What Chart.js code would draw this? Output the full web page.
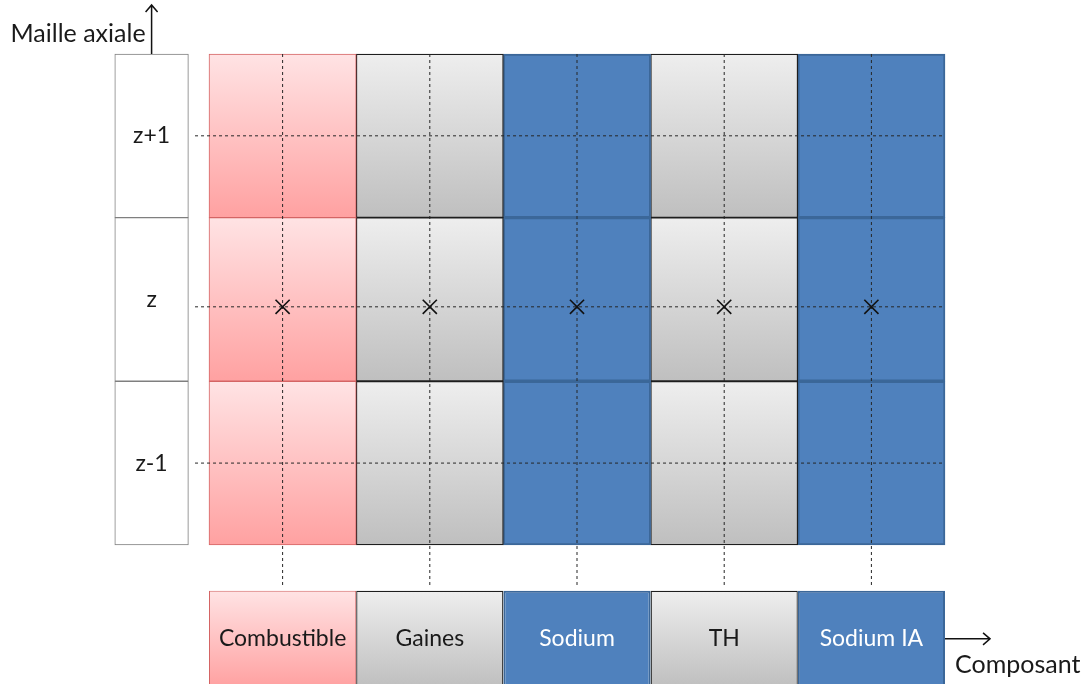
<!DOCTYPE html>
<html>
<head>
<meta charset="utf-8">
<script src="https://cdn.jsdelivr.net/npm/chart.js@4.4.0/dist/chart.umd.min.js"></script>
<style>
  html, body { margin: 0; background: #fff; }
  #wrap { width: 1082px; height: 684px; }
</style>
</head>
<body>
<div id="wrap"><canvas id="c"></canvas></div>
<script>
// Composants (colonnes) et mailles axiales (lignes)
const composants = ['Combustible', 'Gaines', 'Sodium', 'TH', 'Sodium IA'];
const styleComposant = ['rose', 'gris', 'bleu', 'gris', 'bleu'];
const mailles = ['z-1', 'z', 'z+1'];
const mailleCentre = [0.5, 1.5, 2.5];
const noeudY = [0.5, 1.455, 2.5];      // traits pointillés horizontaux
const noeudCentral = 1;                 // maille des croix
const axeX = [-0.64, -0.14];            // boîte "Maille axiale"
const legendeY = -0.574;
const legendeHaut = 0.587;              // hauteur relative de la rangée des composants
const dashBas = -0.263;
const dashGauche = -0.095;
const flecheHaut = 3.3;
const flecheDroite = 5.306;

const styles = {
  rose: { haut: '#ffe3e4', bas: '#ffa1a1', bord: '#d46464', bw: 1, texte: '#1a1a1a' },
  gris: { haut: '#eeeeee', bas: '#bfbfbf', bord: '#1e1e1e', bw: 1.3, texte: '#1a1a1a' },
  bleu: { fond: '#4f81bd', bord: '#3b6799', bw: 2, texte: '#ffffff' }
};

function remplissage(nom, demi) {
  return (c) => {
    const s = styles[nom];
    if (s.fond) return s.fond;
    const chart = c.chart;
    if (!chart.chartArea || !c.raw) return s.bas;
    const y = chart.scales.y;
    const g = chart.ctx.createLinearGradient(0, y.getPixelForValue(c.raw.y + demi), 0, y.getPixelForValue(c.raw.y - demi));
    g.addColorStop(0, s.haut);
    g.addColorStop(1, s.bas);
    return g;
  };
}

const datasets = [];

// grille composant x maille
composants.forEach((nom, i) => {
  const s = styles[styleComposant[i]];
  datasets.push({
    type: 'bar', label: nom, indexAxis: 'y', grouped: false, clip: false, order: 10 + i,
    data: mailleCentre.map(c => ({ y: c, x: [i, i + 1] })),
    backgroundColor: remplissage(styleComposant[i], 0.5),
    borderColor: s.bord, borderWidth: s.bw, borderSkipped: false,
    categoryPercentage: 1, barPercentage: 1
  });
});

// rangée des composants (légende du bas)
const iLegende = datasets.length;
datasets.push({
  type: 'bar', label: 'composants', indexAxis: 'y', grouped: false, clip: false, order: 20,
  data: composants.map((n, i) => ({ y: legendeY, x: [i, i + 1] })),
  backgroundColor: (c) => remplissage(styleComposant[c.dataIndex] || 'gris', legendeHaut / 2)(c),
  borderColor: (c) => styles[styleComposant[c.dataIndex] || 'gris'].bord,
  borderWidth: (c) => styles[styleComposant[c.dataIndex] || 'gris'].bw,
  borderSkipped: false, categoryPercentage: 1, barPercentage: legendeHaut
});

// colonne des mailles axiales
const iAxe = datasets.length;
datasets.push({
  type: 'bar', label: 'mailles', indexAxis: 'y', grouped: false, clip: false, order: 21,
  data: mailleCentre.map(c => ({ y: c, x: axeX })),
  backgroundColor: '#ffffff', borderColor: '#7f7f7f', borderWidth: 1, borderSkipped: false,
  categoryPercentage: 1, barPercentage: 1
});

// pointillés verticaux
composants.forEach((n, i) => {
  datasets.push({
    type: 'line', data: [{ x: i + 0.5, y: 3 }, { x: i + 0.5, y: dashBas }],
    borderColor: '#262626', borderWidth: 1, borderDash: [3, 3], pointRadius: 0, clip: false, order: 2
  });
});

// pointillés horizontaux
noeudY.forEach(v => {
  datasets.push({
    type: 'line', data: [{ x: dashGauche, y: v }, { x: composants.length, y: v }],
    borderColor: '#262626', borderWidth: 1, borderDash: [3, 3], pointRadius: 0, clip: false, order: 2
  });
});

// croix au centre des mailles z
datasets.push({
  type: 'scatter', data: composants.map((n, i) => ({ x: i + 0.5, y: noeudY[noeudCentral] })),
  pointStyle: 'crossRot', pointRadius: 10, borderColor: '#111', borderWidth: 1.6, clip: false, order: 1
});

const decor = {
  id: 'decor',
  afterDatasetsDraw(chart) {
    const { ctx, scales: { x, y } } = chart;
    ctx.save();
    ctx.font = '23px Lato';
    ctx.textAlign = 'center';
    ctx.textBaseline = 'middle';

    ctx.fillStyle = '#1a1a1a';
    chart.getDatasetMeta(iAxe).data.forEach((el, i) => {
      ctx.fillText(mailles[i], (el.x + el.base) / 2, el.y);
    });

    chart.getDatasetMeta(iLegende).data.forEach((el, i) => {
      ctx.fillStyle = styles[styleComposant[i]].texte;
      ctx.fillText(composants[i], (el.x + el.base) / 2, el.y);
    });

    // flèches
    ctx.strokeStyle = '#111';
    ctx.lineWidth = 1.5;
    const ax = x.getPixelForValue((axeX[0] + axeX[1]) / 2);
    const ay0 = y.getPixelForValue(3), ay1 = y.getPixelForValue(flecheHaut);
    ctx.beginPath();
    ctx.moveTo(ax, ay0); ctx.lineTo(ax, ay1);
    ctx.moveTo(ax - 6, ay1 + 7); ctx.lineTo(ax, ay1); ctx.lineTo(ax + 6, ay1 + 7);
    const bx0 = x.getPixelForValue(composants.length), bx1 = x.getPixelForValue(flecheDroite);
    const by = y.getPixelForValue(legendeY);
    ctx.moveTo(bx0, by); ctx.lineTo(bx1, by);
    ctx.moveTo(bx1 - 7, by - 6); ctx.lineTo(bx1, by); ctx.lineTo(bx1 - 7, by + 6);
    ctx.stroke();

    ctx.fillStyle = '#1a1a1a';
    ctx.font = '25px Lato';
    ctx.textAlign = 'right';
    ctx.fillText('Maille axiale', ax - 6, (ay0 + ay1) / 2 + 4);
    ctx.textAlign = 'left';
    ctx.fillText('Composant', bx0 + 10, by + 26);
    ctx.restore();
  }
};

new Chart(document.getElementById('c'), {
  type: 'bar',
  data: { datasets },
  options: {
    responsive: true,
    maintainAspectRatio: false,
    animation: false,
    layout: { autoPadding: false, padding: { left: 91.24, right: 19.24, top: 54, bottom: 0 } },
    scales: {
      x: { type: 'linear', min: -0.8, max: 5.8, offset: false, display: false },
      y: {
        type: 'linear', min: -0.85, max: 3, offset: false, display: false,
        afterBuildTicks: s => { s.ticks = [0, 1, 2, 3].map(v => ({ value: v })); }
      }
    },
    plugins: { legend: { display: false }, tooltip: { enabled: false } }
  },
  plugins: [decor]
});
</script>
</body>
</html>
